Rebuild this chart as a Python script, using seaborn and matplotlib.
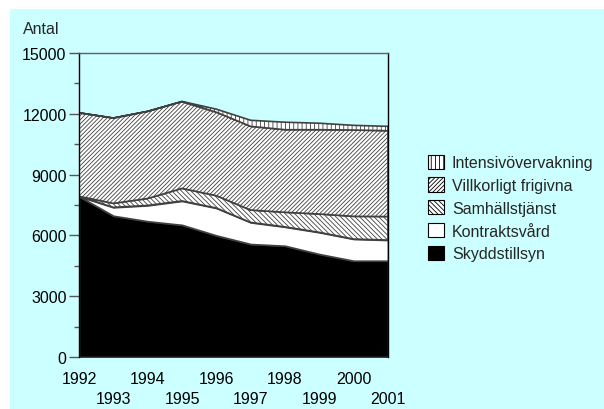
import numpy as np
import matplotlib
matplotlib.use("Agg")
import matplotlib.pyplot as plt
import matplotlib.patches as mpatches
import seaborn as sns

# data (antal per kategori och år)
years = [1992, 1993, 1994, 1995, 1996, 1997, 1998, 1999, 2000, 2001]
skyddstillsyn = [7930, 6970, 6700, 6520, 6000, 5575, 5490, 5080, 4750, 4750]
kontraktsvard = [0, 415, 780, 1180, 1350, 1065, 930, 1070, 1070, 1020]
samhallstjanst = [0, 195, 340, 620, 610, 610, 720, 905, 1120, 1160]
villkorligt = [4120, 4210, 4300, 4280, 4120, 4130, 4075, 4160, 4260, 4235]
intensiv = [0, 0, 0, 10, 150, 300, 370, 320, 230, 215]

labels = ["Skyddstillsyn", "Kontraktsvård", "Samhällstjänst",
          "Villkorligt frigivna", "Intensivövervakning"]
fills = ["black", "white", "white", "white", "white"]
hatches = [None, None, "\\" * 7, "/" * 8, "||||"]

bg = "#ccffff"
edge = "#404040"

sns.set_theme(style="ticks")
plt.rcParams["font.family"] = ["Liberation Sans", "DejaVu Sans"]
plt.rcParams["hatch.linewidth"] = 0.6

fig = plt.figure(figsize=(6.04, 4.10), dpi=100, facecolor="white")
fig.patches.append(mpatches.Rectangle((10 / 604, 0), 1 - 10 / 604, 400 / 410,
                                      transform=fig.transFigure, facecolor=bg,
                                      edgecolor="none", zorder=-10))
ax = fig.add_axes([79 / 604, 52 / 410, 309 / 604, 304 / 410])
ax.set_zorder(1)
ax.set_facecolor(bg)

polys = ax.stackplot(years, skyddstillsyn, kontraktsvard, samhallstjanst,
                     villkorligt, intensiv, colors=fills, edgecolor=edge,
                     linewidth=1.2)
for p, h in zip(polys, hatches):
    if h:
        p.set_hatch(h)

ax.set_xlim(1992, 2001)
ax.set_ylim(0, 15000)
ax.set_yticks(np.arange(0, 15001, 3000))
ax.set_yticks(np.arange(1500, 15000, 3000), minor=True)
ax.tick_params(axis="y", which="major", length=7, width=1, color="#555555",
               labelsize=11.5, pad=2, labelcolor="black")
ax.tick_params(axis="y", which="minor", length=3.5, width=1, color="#555555")

ax.set_xticks(years)
ax.set_xticklabels([str(y) if y % 2 == 0 else "\n" + str(y) for y in years])
ax.tick_params(axis="x", length=0, labelsize=11.5, pad=10, labelcolor="black")
for t in ax.get_xticklabels():
    t.set_linespacing(1.45)

for s in ["left", "right"]:
    ax.spines[s].set_color("black")
    ax.spines[s].set_linewidth(1)
ax.spines["top"].set_color("#606060")
ax.spines["top"].set_linewidth(1)
ax.spines["bottom"].set_visible(False)

fig.text(23 / 604, 1 - 29 / 410, "Antal", fontsize=11.5, va="center", ha="left")

handles = [mpatches.Patch(facecolor=f, edgecolor="black", hatch=h, linewidth=0.8)
           for f, h in zip(fills, hatches)]
ax.legend(handles[::-1], labels[::-1], loc="center left",
          bbox_to_anchor=(420 / 604, 1 - 209 / 410), bbox_transform=fig.transFigure,
          frameon=False, fontsize=11.5, handlelength=1.0, handleheight=1.0,
          handletextpad=0.5, labelspacing=0.45, borderpad=0)

fig.savefig("out.png", dpi=100, facecolor="white")
